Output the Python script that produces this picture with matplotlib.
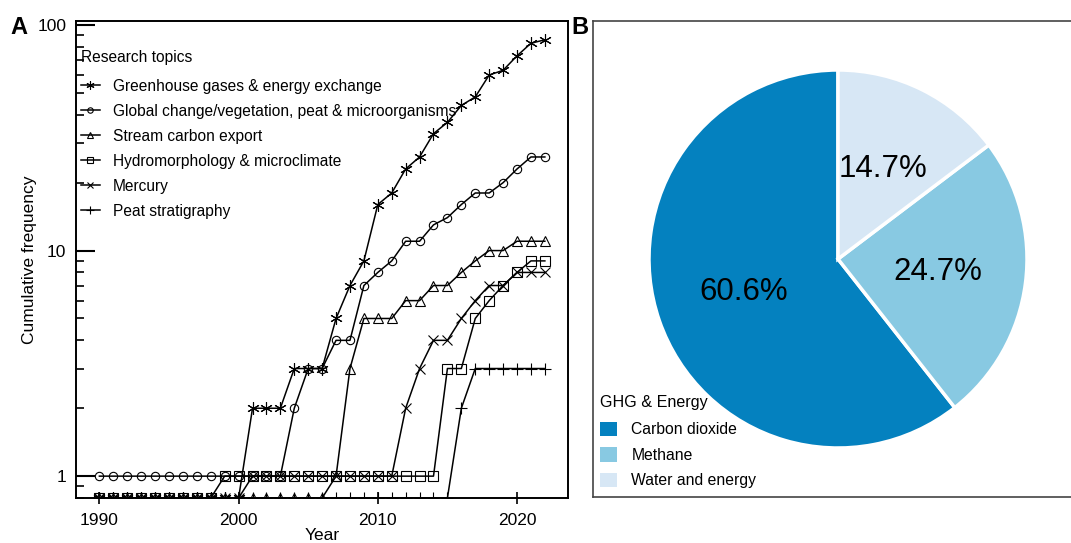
import numpy as np
import matplotlib
matplotlib.use('Agg')
import matplotlib.pyplot as plt
from matplotlib.patches import Patch

plt.rcParams['font.family'] = ['Liberation Sans', 'DejaVu Sans']

# Panel A data: cumulative number of studies per topic
years = list(range(1990, 2023))
ghg = [0, 0, 0, 0, 0, 0, 0, 0, 0, 0, 0, 2, 2, 2, 3, 3, 3, 5, 7, 9, 16,
       18, 23, 26, 33, 37, 44, 48, 60, 63, 73, 83, 86]
global_change = [1, 1, 1, 1, 1, 1, 1, 1, 1, 1, 1, 1, 1, 1, 2, 3, 3, 4, 4, 7, 8,
                 9, 11, 11, 13, 14, 16, 18, 18, 20, 23, 26, 26]
stream = [0, 0, 0, 0, 0, 0, 0, 0, 0, 0, 0, 0, 0, 0, 0, 0, 0, 1, 3, 5, 5,
          5, 6, 6, 7, 7, 8, 9, 10, 10, 11, 11, 11]
hydro = [0, 0, 0, 0, 0, 0, 0, 0, 0, 1, 1, 1, 1, 1, 1, 1, 1, 1, 1, 1, 1,
         1, 1, 1, 1, 3, 3, 5, 6, 7, 8, 9, 9]
mercury = [0, 0, 0, 0, 0, 0, 0, 0, 0, 0, 0, 1, 1, 1, 1, 1, 1, 1, 1, 1, 1,
           1, 2, 3, 4, 4, 5, 6, 7, 7, 8, 8, 8]
peat = [0, 0, 0, 0, 0, 0, 0, 0, 0, 0, 0, 0, 0, 0, 0, 0, 0, 0, 0, 0, 0,
        0, 0, 0, 0, 0, 2, 3, 3, 3, 3, 3, 3]

topics = ['Greenhouse gases & energy exchange',
          'Global change/vegetation, peat & microorganisms',
          'Stream carbon export',
          'Hydromorphology & microclimate',
          'Mercury',
          'Peat stratigraphy']

# Panel B data
gas_labels = ['Carbon dioxide', 'Methane', 'Water and energy']
gas_share = [60.6, 24.7, 14.7]
gas_colors = ['#0481bf', '#88c9e2', '#d7e7f5']

W, H = 1071, 543
fig = plt.figure(figsize=(W / 100, H / 100), dpi=100)

# ---- panel A ----
ymin = 0.80
ax = fig.add_axes([76 / W, 1 - 498 / H, (567.7 - 76) / W, (498 - 20.7) / H])
series = [ghg, global_change, stream, hydro, mercury, peat]
markers = [(6, 2, 0), 'o', '^', 's', 'x', '+']
msizes = [9, 6, 7.5, 6.5, 7, 9]
for vals, lab, m, ms in zip(series, topics, markers, msizes):
    v = np.array(vals, dtype=float)
    v[v <= 0] = ymin  # zeros sit on the floor of the log axis
    ax.plot(years, v, color='black', lw=1.1, marker=m, ms=ms, mfc='none',
            mec='black', mew=0.8, label=lab)

ax.set_yscale('log')
ax.set_ylim(ymin, 104.5)
ax.set_xlim(1988.32, 2023.64)
ax.set_xticks([1990, 2000, 2010, 2020])
ax.set_yticks([1, 10, 100])
ax.set_yticklabels(['1', '10', '100'])
ax.tick_params(axis='y', which='major', direction='in', length=14, width=1.5,
               pad=7, labelsize=12.5)
ax.tick_params(axis='y', which='minor', direction='in', length=6, width=1.2)
ax.tick_params(axis='x', which='major', direction='inout', length=9, width=1.2,
               pad=6, labelsize=12.5)
ax.tick_params(axis='x', which='minor', bottom=False)
for s in ax.spines.values():
    s.set_linewidth(1.4)
ax.set_ylabel('Cumulative frequency', fontsize=12.5, labelpad=0)
ax.set_xlabel('Year', fontsize=12.5, labelpad=0)

fs = 11.2
leg = ax.legend(loc='upper left', title='Research topics', frameon=False,
                fontsize=fs, title_fontsize=fs, alignment='left',
                handlelength=1.2, handletextpad=0.87, labelspacing=0.64,
                markerscale=0.65, borderaxespad=0, borderpad=0,
                bbox_to_anchor=(0.010, 1 - 29 / 477))
leg._legend_box.sep = 0.64 * fs + 3

fig.text(10 / W, 1 - 27 / H, 'A', fontsize=17, fontweight='bold', va='center')

# ---- panel B ----
frame = fig.add_axes([593 / W, 1 - 497 / H, 0.5, (497 - 20.7) / H])
frame.set_xticks([])
frame.set_yticks([])
for s in frame.spines.values():
    s.set_linewidth(1.2)
    s.set_color('#444444')

r = 189
pax = fig.add_axes([(838 - r) / W, 1 - (259 + r) / H, 2 * r / W, 2 * r / H])
wedges, texts, autotexts = pax.pie(gas_share, colors=gas_colors, startangle=90,
                                   autopct='%.1f%%', pctdistance=0.53,
                                   wedgeprops=dict(edgecolor='white', linewidth=2.5),
                                   textprops=dict(fontsize=22.5))
pax.set_xlim(-1, 1)
pax.set_ylim(-1, 1)
pax.set_aspect('equal')

fs2 = 11.3
handles = [Patch(facecolor=c, edgecolor='none') for c in gas_colors]
leg2 = fig.legend(handles, gas_labels, loc='upper left', title='GHG & Energy',
                  bbox_to_anchor=(600 / W, 1 - 395 / H), bbox_transform=fig.transFigure,
                  frameon=False, fontsize=fs2, title_fontsize=11.6, alignment='left',
                  handlelength=1.1, handleheight=1.05, handletextpad=0.9,
                  labelspacing=0.62, borderaxespad=0, borderpad=0)
leg2._legend_box.sep = 0.62 * fs2 + 1.5

fig.text(571 / W, 1 - 27 / H, 'B', fontsize=17, fontweight='bold', va='center')

fig.savefig('out.png', dpi=100)
